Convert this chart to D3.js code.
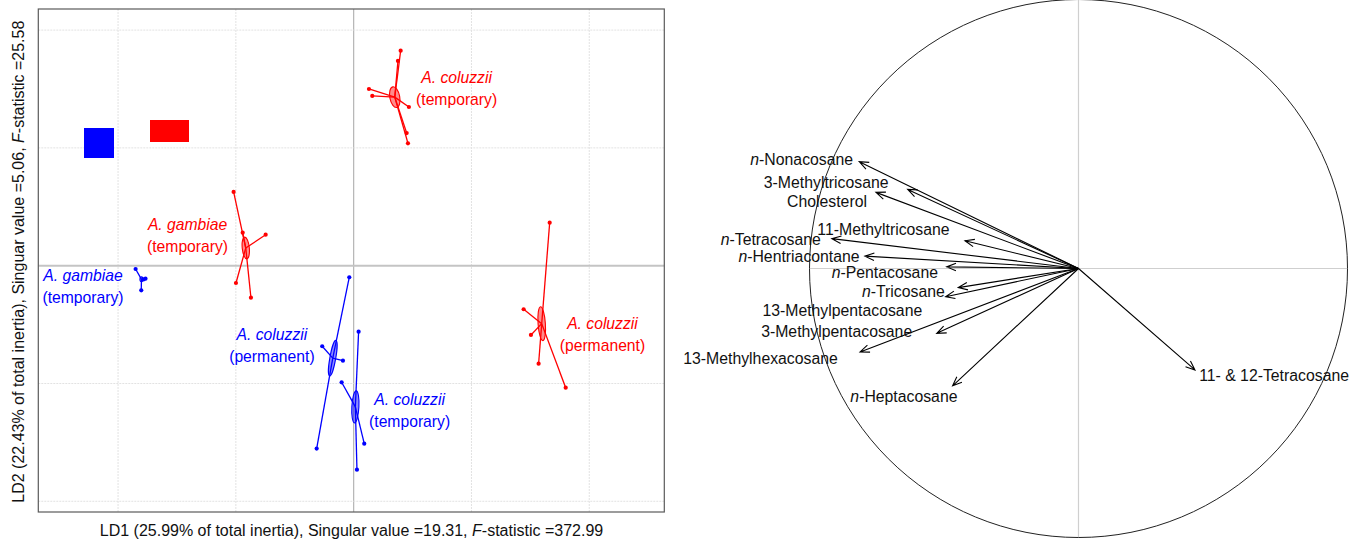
<!DOCTYPE html>
<html>
<head>
<meta charset="utf-8">
<script src="https://cdn.jsdelivr.net/npm/d3@7"></script>
<style>
  body { margin: 0; background: #fff; }
  svg { display: block; }
  text { font-family: "Liberation Sans", Arial, Helvetica, sans-serif; }
</style>
</head>
<body>
<svg id="chart" width="1359" height="542"></svg>
<script>
// ---- Discriminant scores (LD1, LD2) of individual samples, by group ----
const groupSpecies = ["A. coluzzii", "A. gambiae", "A. coluzzii", "A. gambiae", "A. coluzzii", "A. coluzzii"];
const groupHabitat = ["(temporary)", "(temporary)", "(permanent)", "(temporary)", "(permanent)", "(temporary)"];
const groupColor   = ["#ff0000", "#ff0000", "#ff0000", "#0000ff", "#0000ff", "#0000ff"];

const colTempRed = [[0.399, 1.825], [0.376, 1.738], [0.130, 1.500], [0.158, 1.441], [0.469, 1.347], [0.450, 1.126], [0.461, 1.039]];
const gamTempRed = [[-1.019, 0.626], [-0.942, 0.280], [-0.747, 0.263], [-0.999, -0.147], [-0.872, -0.272]];
const colPermRed = [[1.664, 0.365], [1.443, -0.370], [1.505, -0.588], [1.570, -0.832], [1.800, -1.036]];
const gamTempBlue = [[-1.851, -0.028], [-1.767, -0.110], [-1.784, -0.117], [-1.803, -0.209]];
const colPermBlue = [[-0.037, -0.098], [-0.267, -0.684], [-0.091, -0.806], [-0.314, -1.553]];
const colTempBlue = [[0.042, -0.560], [-0.102, -0.990], [0.090, -1.511], [0.028, -1.732]];
const groupPoints = [colTempRed, gamTempRed, colPermRed, gamTempBlue, colPermBlue, colTempBlue];

// ellipse half-axes (LD1, LD2 units) and tilt in degrees
const ellipseA = [0.042, 0.030, 0.031, 0.013, 0.025, 0.030];
const ellipseB = [0.089, 0.093, 0.144, 0.021, 0.153, 0.136];
const ellipseTilt = [-11, -6, -4, 0, 10, 3];

const ld1Grid = [-2, -1, 0, 1, 2];
const ld2Grid = [-2, -1, 0, 1, 2];

const xTitle = ["LD1 (25.99% of total inertia), Singular value =19.31, ", "F", "-statistic =372.99"];
const yTitle = ["LD2 (22.43% of total inertia), Singuar value =5.06, ", "F", "-statistic =25.58"];

// ---- Correlation circle: compounds and their loadings ----
const compoundPrefix = ["n-", "", "", "", "n-", "n-", "n-", "n-", "", "", "", "n-", ""];
const compoundName = ["Nonacosane", "3-Methyltricosane", "Cholesterol", "11-Methyltricosane", "Tetracosane",
  "Hentriacontane", "Pentacosane", "Tricosane", "13-Methylpentacosane", "3-Methylpentacosane",
  "13-Methylhexacosane", "Heptacosane", "11- & 12-Tetracosane"];
const loadLD1 = [-0.815, -0.635, -0.753, -0.422, -0.917, -0.794, -0.490, -0.447, -0.494, -0.527, -0.812, -0.468, 0.433];
const loadLD2 = [0.397, 0.294, 0.283, 0.103, 0.111, 0.046, 0.006, -0.071, -0.105, -0.241, -0.310, -0.436, -0.377];

const svg = d3.select("#chart");

// ================= Left panel: class scatter =================
const L = { left: 38.3, right: 664.3, top: 9, bottom: 512 };
const x = d3.scaleLinear().domain([-2.677, 2.637]).range([L.left, L.right]);
const y = d3.scaleLinear().domain([-2.091, 2.179]).range([L.bottom, L.top]);

const left = svg.append("g");

// grid
left.append("g").selectAll("line").data(ld1Grid).join("line")
  .attr("x1", d => x(d)).attr("x2", d => x(d))
  .attr("y1", L.top).attr("y2", L.bottom)
  .attr("stroke", d => d === 0 ? "#b4b4b4" : "#e2e2e2")
  .attr("stroke-width", d => d === 0 ? 1.2 : 1)
  .attr("stroke-dasharray", d => d === 0 ? null : "2,1");
left.append("g").selectAll("line").data(ld2Grid).join("line")
  .attr("y1", d => y(d)).attr("y2", d => y(d))
  .attr("x1", L.left).attr("x2", L.right)
  .attr("stroke", d => d === 0 ? "#c4c4c4" : "#e2e2e2")
  .attr("stroke-width", d => d === 0 ? 2 : 1)
  .attr("stroke-dasharray", d => d === 0 ? null : "2,1");

// frame
left.append("rect")
  .attr("x", L.left).attr("y", L.top)
  .attr("width", L.right - L.left).attr("height", L.bottom - L.top)
  .attr("fill", "none").attr("stroke", "#5a5a5a").attr("stroke-width", 1.2);

// colour keys in the upper-left corner
left.append("rect").attr("x", 84).attr("y", 128).attr("width", 30).attr("height", 30).attr("fill", "#0000ff");
left.append("rect").attr("x", 150).attr("y", 120).attr("width", 39).attr("height", 22).attr("fill", "#ff0000");

const groups = groupPoints.map((pts, i) => ({
  pts,
  cx: d3.mean(pts, p => p[0]),
  cy: d3.mean(pts, p => p[1]),
  color: groupColor[i],
  a: ellipseA[i], b: ellipseB[i], tilt: ellipseTilt[i]
}));

const gg = left.append("g").selectAll("g").data(groups).join("g");

// star segments to the group centroid
gg.selectAll("line.star").data(g => g.pts.map(p => ({ p, g }))).join("line")
  .attr("class", "star")
  .attr("x1", d => x(d.g.cx)).attr("y1", d => y(d.g.cy))
  .attr("x2", d => x(d.p[0])).attr("y2", d => y(d.p[1]))
  .attr("stroke", d => d.g.color).attr("stroke-width", 1.3);

// ellipses
gg.append("ellipse")
  .attr("cx", g => x(g.cx)).attr("cy", g => y(g.cy))
  .attr("rx", g => x(g.a) - x(0)).attr("ry", g => y(0) - y(g.b))
  .attr("transform", g => `rotate(${g.tilt},${x(g.cx)},${y(g.cy)})`)
  .attr("fill", g => g.color).attr("fill-opacity", 0.45)
  .attr("stroke", g => g.color).attr("stroke-width", 1.1);

// points
gg.selectAll("circle").data(g => g.pts.map(p => ({ p, g }))).join("circle")
  .attr("cx", d => x(d.p[0])).attr("cy", d => y(d.p[1]))
  .attr("r", 2.1).attr("fill", d => d.g.color);

// group labels
const labelAt = [[0.874, 1.506], [-1.410, 0.253], [2.112, -0.584], [-2.298, -0.178], [-0.694, -0.680], [0.475, -1.229]];
const lab = left.append("g").selectAll("text").data(groups).join("text")
  .attr("text-anchor", "middle")
  .attr("font-size", 15.7)
  .attr("fill", g => g.color);
lab.append("tspan")
  .attr("x", (g, i) => x(labelAt[i][0]))
  .attr("y", (g, i) => y(labelAt[i][1]) - 5.5)
  .attr("font-style", "italic")
  .text((g, i) => groupSpecies[i]);
lab.append("tspan")
  .attr("x", (g, i) => x(labelAt[i][0]))
  .attr("y", (g, i) => y(labelAt[i][1]) + 16.5)
  .text((g, i) => groupHabitat[i]);

// axis titles
const xt = svg.append("text").attr("x", 351.5).attr("y", 536)
  .attr("text-anchor", "middle").attr("font-size", 16).attr("fill", "#111");
xTitle.forEach((s, i) => xt.append("tspan").attr("font-style", i === 1 ? "italic" : null).text(s));

const yt = svg.append("text")
  .attr("transform", "translate(23.5,261.7) rotate(-90)")
  .attr("text-anchor", "middle").attr("font-size", 16).attr("fill", "#111");
yTitle.forEach((s, i) => yt.append("tspan").attr("font-style", i === 1 ? "italic" : null).text(s));

// ================= Right panel: correlation circle =================
const cxs = d3.scaleLinear().domain([-1, 1]).range([1078.5 - 269, 1078.5 + 269]);
const cys = d3.scaleLinear().domain([-1, 1]).range([268.5 + 269, 268.5 - 269]);
const right = svg.append("g");

right.append("line").attr("x1", cxs(-1)).attr("x2", cxs(1)).attr("y1", cys(0)).attr("y2", cys(0))
  .attr("stroke", "#cfcfcf").attr("stroke-width", 1.2);
right.append("line").attr("x1", cxs(0)).attr("x2", cxs(0)).attr("y1", cys(1)).attr("y2", cys(-1))
  .attr("stroke", "#cfcfcf").attr("stroke-width", 1.2);
right.append("circle").attr("cx", cxs(0)).attr("cy", cys(0)).attr("r", cxs(1) - cxs(0))
  .attr("fill", "none").attr("stroke", "#222").attr("stroke-width", 1);

const vars = compoundName.map((n, i) => ({ n, pre: compoundPrefix[i], lx: loadLD1[i], ly: loadLD2[i] }));
const headLen = 10, headAng = 22 * Math.PI / 180;
right.append("g").selectAll("path").data(vars).join("path")
  .attr("d", v => {
    const ox = cxs(0), oy = cys(0), tx = cxs(v.lx), ty = cys(v.ly);
    const th = Math.atan2(ty - oy, tx - ox);
    const h1x = tx - headLen * Math.cos(th - headAng), h1y = ty - headLen * Math.sin(th - headAng);
    const h2x = tx - headLen * Math.cos(th + headAng), h2y = ty - headLen * Math.sin(th + headAng);
    return `M${ox},${oy}L${tx},${ty}M${h1x},${h1y}L${tx},${ty}L${h2x},${h2y}`;
  })
  .attr("fill", "none").attr("stroke", "#000").attr("stroke-width", 1.1);

// compound labels
const varLabelAt = [[-1.029, 0.407], [-0.938, 0.319], [-0.935, 0.248], [-0.725, 0.146], [-1.144, 0.110],
  [-1.039, 0.045], [-0.720, -0.016], [-0.651, -0.084], [-0.878, -0.154], [-0.899, -0.235],
  [-1.182, -0.334], [-0.649, -0.474], [0.727, -0.398]];
const vl = right.append("g").selectAll("text").data(vars).join("text")
  .attr("x", (v, i) => cxs(varLabelAt[i][0]))
  .attr("y", (v, i) => cys(varLabelAt[i][1]) + 5.6)
  .attr("text-anchor", "middle")
  .attr("font-size", 15.8).attr("fill", "#111");
vl.append("tspan").attr("font-style", "italic").text(v => v.pre.replace("-", ""));
vl.append("tspan").text(v => (v.pre ? "-" : "") + v.n);
</script>
</body>
</html>
